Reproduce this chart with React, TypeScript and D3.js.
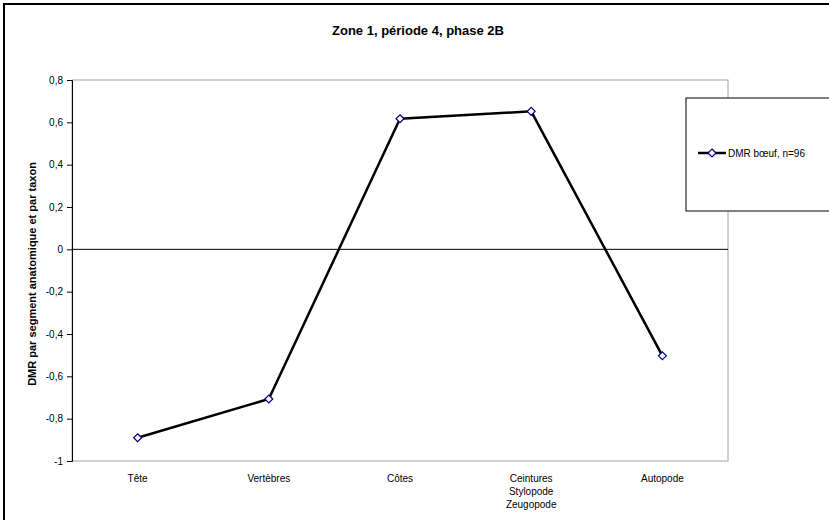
import React, { useEffect, useRef } from 'react';
import * as d3 from 'd3';

// categories (x) and values
const categories = ['Tête', 'Vertèbres', 'Côtes', 'Ceintures\nStylopode\nZeugopode', 'Autopode'];
const dmrValues = [-0.89, -0.707, 0.617, 0.652, -0.503];
const yTicks = [0.8, 0.6, 0.4, 0.2, 0, -0.2, -0.4, -0.6, -0.8, -1];
const seriesName = 'DMR bœuf, n=96';

export default function App() {
  const svgRef = useRef<SVGSVGElement>(null);

  useEffect(() => {
    if (!svgRef.current) return;
    const svg = d3.select(svgRef.current);
    svg.selectAll('*').remove();

    const width = 829;
    const height = 520;
    const margin = { top: 80, right: 101, bottom: 59, left: 72 };
    const innerWidth = width - margin.left - margin.right;
    const innerHeight = height - margin.top - margin.bottom;
    const font = 'Arial, "Liberation Sans", sans-serif';

    svg.append('rect').attr('width', width).attr('height', height).attr('fill', '#fff');

    // outer chart border
    svg.append('rect')
      .attr('x', 4).attr('y', 4)
      .attr('width', width + 10).attr('height', height + 10)
      .attr('fill', 'none').attr('stroke', '#000').attr('stroke-width', 2);

    // title
    svg.append('text')
      .attr('x', 418).attr('y', 35)
      .attr('text-anchor', 'middle')
      .style('font-family', font).style('font-size', '13px').style('font-weight', 'bold')
      .text('Zone 1, période 4, phase 2B');

    const g = svg.append('g').attr('transform', `translate(${margin.left},${margin.top})`);

    const x = d3.scaleBand<number>()
      .domain(categories.map((_, i) => i))
      .range([0, innerWidth]);

    const y = d3.scaleLinear().domain([-1, 0.8]).range([innerHeight, 0]);

    // plot area frame (grey)
    g.append('rect')
      .attr('x', 0).attr('y', 0)
      .attr('width', innerWidth).attr('height', innerHeight)
      .attr('fill', 'none').attr('stroke', '#a0a0a0').attr('stroke-width', 1);

    // y axis
    const yAxis = g.append('g')
      .call(d3.axisLeft(y).tickValues(yTicks).tickSize(5).tickPadding(4)
        .tickFormat(d => String(d as number).replace('.', ',')));
    yAxis.select('.domain').attr('stroke', '#000');
    yAxis.selectAll('line').attr('stroke', '#000');
    yAxis.selectAll('text')
      .attr('fill', '#000')
      .style('font-family', font).style('font-size', '10px');

    // zero line
    g.append('line')
      .attr('x1', 0).attr('x2', innerWidth)
      .attr('y1', y(0)).attr('y2', y(0))
      .attr('stroke', '#000').attr('stroke-width', 1);

    // x labels
    categories.forEach((c, i) => {
      const t = g.append('text')
        .attr('x', (x(i) || 0) + x.bandwidth() / 2)
        .attr('y', innerHeight + 21)
        .attr('text-anchor', 'middle')
        .style('font-family', font).style('font-size', '10px');
      c.split('\n').forEach((line, j) => {
        t.append('tspan')
          .attr('x', (x(i) || 0) + x.bandwidth() / 2)
          .attr('dy', j === 0 ? 0 : 13)
          .text(line);
      });
    });

    // y axis label
    svg.append('text')
      .attr('transform', 'translate(36,274) rotate(-90)')
      .attr('text-anchor', 'middle')
      .style('font-family', font).style('font-size', '11px').style('font-weight', 'bold')
      .text('DMR par segment anatomique et par taxon');

    // line
    const line = d3.line<number>()
      .x((_, i) => (x(i) || 0) + x.bandwidth() / 2)
      .y(d => y(d));

    g.append('path')
      .datum(dmrValues)
      .attr('d', line)
      .attr('fill', 'none')
      .attr('stroke', '#000')
      .attr('stroke-width', 2.5);

    const diamond = d3.symbol().type(d3.symbolDiamond2).size(40);

    g.selectAll('.marker')
      .data(dmrValues)
      .enter()
      .append('path')
      .attr('class', 'marker')
      .attr('d', diamond)
      .attr('transform', (d, i) => `translate(${(x(i) || 0) + x.bandwidth() / 2},${y(d)})`)
      .attr('fill', '#fff')
      .attr('stroke', '#000080')
      .attr('stroke-width', 1.2);

    // legend
    const legend = svg.append('g').attr('transform', 'translate(686,98)');
    legend.append('rect')
      .attr('width', 160).attr('height', 113)
      .attr('fill', '#fff').attr('stroke', '#000').attr('stroke-width', 1);
    legend.append('line')
      .attr('x1', 12).attr('x2', 40).attr('y1', 55).attr('y2', 55)
      .attr('stroke', '#000').attr('stroke-width', 2.5);
    legend.append('path')
      .attr('d', diamond)
      .attr('transform', 'translate(26,55)')
      .attr('fill', '#fff').attr('stroke', '#000080').attr('stroke-width', 1.2);
    legend.append('text')
      .attr('x', 42).attr('y', 59)
      .style('font-family', font).style('font-size', '10px')
      .text(seriesName);
  }, []);

  return (
    <svg ref={svgRef} width={829} height={520} style={{ display: 'block', position: 'absolute', left: 0, top: 0 }} />
  );
}
